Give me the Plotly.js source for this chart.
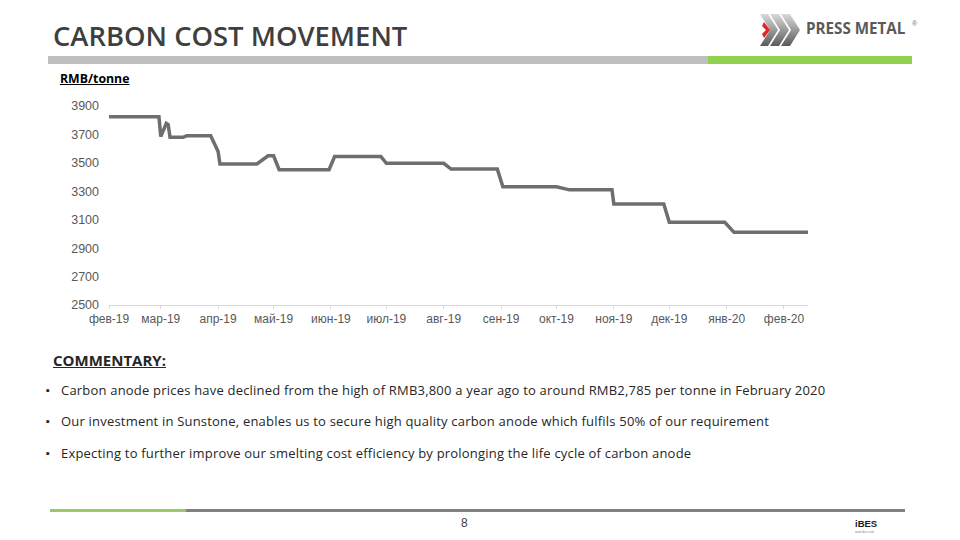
<!DOCTYPE html>
<html>
<head>
<meta charset="utf-8">
<script src="https://cdn.plot.ly/plotly-3.0.1.min.js"></script>
<style>
  html, body { margin:0; padding:0; background:#fff; }
  #wrap { position:relative; width:960px; height:540px; overflow:hidden; background:#fff; }
  #chart { position:absolute; left:0; top:0; width:960px; height:540px; }
  .ov { position:absolute; white-space:nowrap; }
  #title { left:53px; top:17px; font-family:"Open Sans", sans-serif; font-weight:600; font-size:27.4px; color:#3f3f3f; }
  #barGray { left:48px; top:56px; width:660px; height:8px; background:#bfbfbf; }
  #barGreen { left:708px; top:56px; width:204px; height:8px; background:#92d050; }
  #unit { left:60px; top:70px; font-family:"Open Sans", sans-serif; font-weight:700; font-size:12.3px; color:#000; text-decoration:underline; }
  #comm { left:53px; top:350px; font-family:"Open Sans", sans-serif; font-weight:700; font-size:15px; color:#262626; text-decoration:underline; }
  .bul { left:46px; font-family:"Open Sans", sans-serif; font-size:13px; letter-spacing:0.2px; color:#262626; }
  .bul span.dot { display:inline-block; width:15px; font-size:11px; vertical-align:1px; letter-spacing:0; }
  #fGreen { left:50px; top:509px; width:136px; height:3px; background:#9bc96a; }
  #fGray { left:186px; top:509px; width:719px; height:3px; background:#808080; }
  #page { left:461px; top:516px; font-family:"Liberation Sans", sans-serif; font-size:12px; color:#404040; }
  #ibes { left:855px; top:518px; font-family:"Liberation Sans", sans-serif; font-weight:700; font-size:9.5px; color:#1a1a1a; }
  #ibesSub { left:855px; top:530px; font-family:"Liberation Sans", sans-serif; font-size:3px; color:#888; }
  #logoText { left:806px; top:18px; font-family:"Open Sans", sans-serif; font-weight:700; font-size:15.2px; color:#5a5a5a; }
  #reg { left:912px; top:20px; font-family:"Liberation Sans", sans-serif; font-size:7px; color:#777; }
</style>
</head>
<body>
<div id="wrap">
  <div id="chart"></div>
  <div class="ov" id="title">CARBON COST MOVEMENT</div>
  <div class="ov" id="barGray"></div>
  <div class="ov" id="barGreen"></div>
  <div class="ov" id="unit">RMB/tonne</div>
  <svg class="ov" style="left:758px;top:12px;" width="44" height="36" viewBox="0 0 44 36">
    <defs>
      <linearGradient id="gg" x1="0" y1="0" x2="0" y2="1">
        <stop offset="0" stop-color="#d9d9d9"/>
        <stop offset="0.5" stop-color="#9a9a9a"/>
        <stop offset="1" stop-color="#5a5a5a"/>
      </linearGradient>
    </defs>
    <polygon points="2,2 10,2 20,18 10,34 2,34 12,18" fill="url(#gg)"/>
    <polygon points="6,10 12,18 6,26 4,22 8,18 4,14" fill="#e0262b"/>
    <polygon points="12,2 21,2 31,18 21,34 12,34 22,18" fill="url(#gg)"/>
    <polygon points="23,2 32,2 42,18 32,34 23,34 33,18" fill="url(#gg)"/>
  </svg>
  <div class="ov" id="logoText">PRESS METAL</div>
  <div class="ov" id="reg">®</div>
  <div class="ov" id="comm">COMMENTARY:</div>
  <div class="ov bul" style="top:381px;"><span class="dot">▪</span>Carbon anode prices have declined from the high of RMB3,800 a year ago to around RMB2,785 per tonne in February 2020</div>
  <div class="ov bul" style="top:412px;"><span class="dot">▪</span>Our investment in Sunstone, enables us to secure high quality carbon anode which fulfils 50% of our requirement</div>
  <div class="ov bul" style="top:444px;"><span class="dot">▪</span>Expecting to further improve our smelting cost efficiency by prolonging the life cycle of carbon anode</div>
  <div class="ov" id="fGreen"></div>
  <div class="ov" id="fGray"></div>
  <div class="ov" id="page">8</div>
  <div class="ov" id="ibes">iBES</div>
  <div class="ov" id="ibesSub">www.ibes.com</div>
</div>
<script>
// Carbon anode price (RMB/tonne)
const dates = ['2019-02-01','2019-02-28','2019-03-01','2019-03-04','2019-03-05','2019-03-06','2019-03-13','2019-03-15','2019-03-28','2019-03-30','2019-04-01','2019-04-02','2019-04-22','2019-04-28','2019-05-01','2019-05-04','2019-05-31','2019-06-03','2019-06-28','2019-07-01','2019-08-01','2019-08-05','2019-08-30','2019-09-02','2019-10-01','2019-10-08','2019-10-31','2019-11-01','2019-11-28','2019-12-01','2019-12-31','2020-01-05','2020-02-14'];
const prices = [3825,3825,3685,3778,3770,3680,3680,3690,3690,3640,3580,3492,3492,3550,3550,3452,3452,3545,3545,3497,3497,3456,3456,3332,3332,3310,3310,3210,3210,3082,3082,3011,3011];

const monthTicks = ['2019-02-01','2019-03-01','2019-04-01','2019-05-01','2019-06-01','2019-07-01','2019-08-01','2019-09-01','2019-10-01','2019-11-01','2019-12-01','2020-01-01','2020-02-01'];
const monthLabels = ['фев-19','мар-19','апр-19','май-19','июн-19','июл-19','авг-19','сен-19','окт-19','ноя-19','дек-19','янв-20','фев-20'];
const yTicks = [2500,2700,2900,3100,3300,3500,3700,3900];

const trace = {
  x: dates, y: prices, type: 'scatter', mode: 'lines',
  line: {color: '#6e6e6e', width: 3.5},
  hoverinfo: 'skip'
};
const layout = {
  width: 960, height: 540,
  margin: {l: 109, r: 152, t: 106, b: 235, pad: 0},
  paper_bgcolor: 'rgba(0,0,0,0)', plot_bgcolor: 'rgba(0,0,0,0)',
  showlegend: false,
  xaxis: {
    type: 'date', range: ['2019-02-01','2020-02-14'],
    tickmode: 'array', tickvals: monthTicks, ticktext: monthLabels,
    showgrid: false, zeroline: false,
    showline: true, linecolor: '#d9d9d9', linewidth: 1,
    ticks: 'outside', ticklen: 3, tickcolor: '#d9d9d9', tickwidth: 1,
    tickfont: {family: '"Liberation Sans", Arial, sans-serif', size: 12, color: '#595959'}
  },
  yaxis: {
    range: [2500, 3900], tickmode: 'array', tickvals: yTicks,
    showgrid: false, zeroline: false, showline: false, ticks: '',
    ticklabelstandoff: 9,
    tickfont: {family: '"Liberation Sans", Arial, sans-serif', size: 12.5, color: '#595959'}
  }
};
Plotly.newPlot('chart', [trace], layout, {staticPlot: true, displayModeBar: false});
</script>
</body>
</html>
